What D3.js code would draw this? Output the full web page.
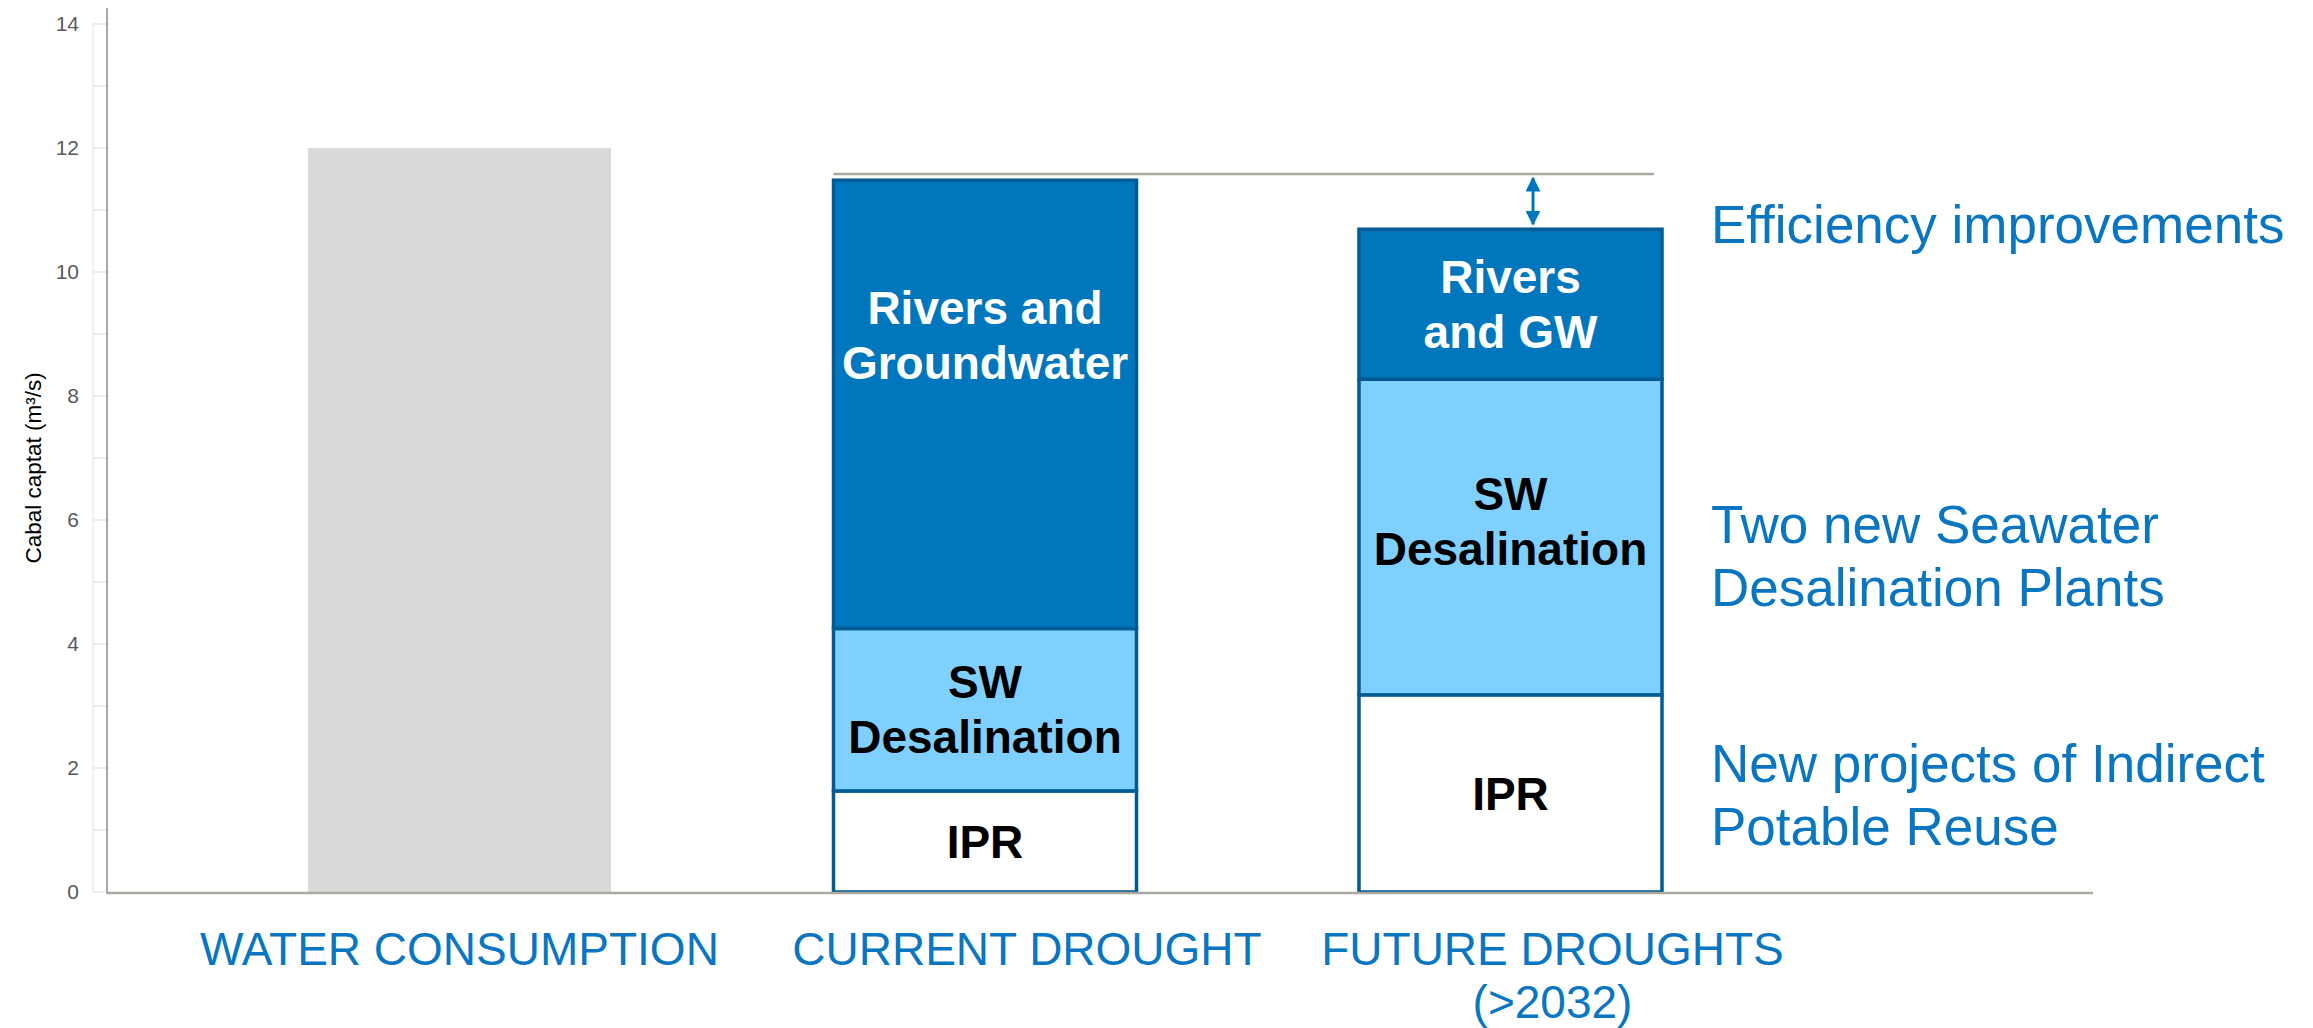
<!DOCTYPE html>
<html>
<head>
<meta charset="utf-8">
<script src="https://cdn.jsdelivr.net/npm/d3@7"></script>
<style>
  body { margin: 0; background: #fff; }
  text { font-family: "Liberation Sans", Arial, sans-serif; }
</style>
</head>
<body>
<div id="vis-holder"></div>
<script>
// Data
const categories = ["WATER CONSUMPTION", "CURRENT DROUGHT", "FUTURE DROUGHTS"];
const catLines = [["WATER CONSUMPTION"], ["CURRENT DROUGHT"], ["FUTURE DROUGHTS", "(>2032)"]];
const consumption = [12, 0, 0];
const ipr = [0, 1.63, 3.18];
const swDesal = [0, 2.62, 5.09];
const rivers = [0, 7.23, 2.42];
const refLevel = 11.58;
const yTicks = [0, 2, 4, 6, 8, 10, 12, 14];
const minorTicks = d3.range(0, 15, 1);

const segLabels = {
  ipr: [null, ["IPR"], ["IPR"]],
  sw: [null, ["SW", "Desalination"], ["SW", "Desalination"]],
  rivers: [null, ["Rivers and", "Groundwater"], ["Rivers", "and GW"]]
};
// label centre (in data units) where it is not centred in its segment
const labelCentre = { rivers: [null, 8.98, null], sw: [null, null, 5.98] };

const notes = [
  { lines: ["Efficiency improvements"], v: 10.77 },
  { lines: ["Two new Seawater", "Desalination Plants"], v: 5.42 },
  { lines: ["New projects of Indirect", "Potable Reuse"], v: 1.56 }
];

const width = 2313, height = 1028;

const svg = d3.select("#vis-holder")
  .append("svg")
  .attr("width", width)
  .attr("height", height);

const y = d3.scaleLinear().domain([0, 14]).range([892, 24]);
const x = d3.scaleBand()
  .domain(categories)
  .range([45.25, 1924.75])
  .paddingInner(0.4234)
  .paddingOuter(0.5);

// faint gridline ticks on the left
svg.append("line")
  .attr("x1", 93).attr("x2", 93)
  .attr("y1", y(14)).attr("y2", y(0))
  .attr("stroke", "#ececec").attr("stroke-width", 1.5);
svg.selectAll(".minor")
  .data(minorTicks)
  .enter().append("line")
  .attr("class", "minor")
  .attr("x1", 93).attr("x2", 109)
  .attr("y1", d => y(d)).attr("y2", d => y(d))
  .attr("stroke", "#e6e6e6").attr("stroke-width", 1.5);

// y tick labels
svg.selectAll(".ytl")
  .data(yTicks)
  .enter().append("text")
  .attr("class", "ytl")
  .attr("x", 79)
  .attr("y", d => y(d))
  .attr("dy", "0.35em")
  .attr("text-anchor", "end")
  .attr("font-size", "21px")
  .attr("fill", "#595959")
  .text(d => d);

// y title
svg.append("text")
  .attr("transform", `translate(33,${y(6.84)}) rotate(-90)`)
  .attr("text-anchor", "middle")
  .attr("dy", "0.35em")
  .attr("font-size", "22.5px")
  .attr("fill", "#000")
  .text("Cabal captat (m³/s)");

// consumption bar
svg.selectAll(".cons")
  .data(categories.map((c, i) => ({ cat: c, v: consumption[i] })))
  .enter().filter(d => d.v > 0).append("rect")
  .attr("class", "cons")
  .attr("x", d => x(d.cat))
  .attr("y", d => y(d.v))
  .attr("width", x.bandwidth())
  .attr("height", d => y(0) - y(d.v))
  .attr("fill", "#d9d9d9");

// stacked bars
const table = categories.map((c, i) => ({ cat: c, ipr: ipr[i], sw: swDesal[i], rivers: rivers[i] }));
const keys = ["ipr", "sw", "rivers"];
const fills = { ipr: "#ffffff", sw: "#80d0ff", rivers: "#0077bd" };
const textFill = { ipr: "#000", sw: "#000", rivers: "#fff" };
const stack = d3.stack().keys(keys)(table);

const layers = svg.selectAll(".layer")
  .data(stack)
  .enter().append("g")
  .attr("class", "layer");

layers.selectAll("rect")
  .data(s => s.map((d, i) => ({ key: s.key, i: i, y0: d[0], y1: d[1], cat: d.data.cat })))
  .enter().filter(d => d.y1 > d.y0).append("rect")
  .attr("x", d => x(d.cat))
  .attr("y", d => y(d.y1))
  .attr("width", x.bandwidth())
  .attr("height", d => y(d.y0) - y(d.y1))
  .attr("fill", d => fills[d.key])
  .attr("stroke", "#005b94")
  .attr("stroke-width", 3.5);

// segment labels
const lineH = 55;
stack.forEach(s => {
  s.forEach((d, i) => {
    const lab = segLabels[s.key][i];
    if (!lab) return;
    const cv = (labelCentre[s.key] && labelCentre[s.key][i] != null) ? labelCentre[s.key][i] : (d[0] + d[1]) / 2;
    const cy = y(cv);
    const t = svg.append("text")
      .attr("text-anchor", "middle")
      .attr("font-size", "46px")
      .attr("font-weight", "bold")
      .attr("fill", textFill[s.key]);
    lab.forEach((l, j) => {
      t.append("tspan")
        .attr("x", x(d.data.cat) + x.bandwidth() / 2)
        .attr("y", cy + (j - (lab.length - 1) / 2) * lineH)
        .attr("dy", "0.35em")
        .text(l);
    });
  });
});

// x axis line
svg.append("line")
  .attr("x1", 107).attr("x2", 2093)
  .attr("y1", y(0) + 1).attr("y2", y(0) + 1)
  .attr("stroke", "#aba89f").attr("stroke-width", 2.5);
// y axis line
svg.append("line")
  .attr("x1", 107).attr("x2", 107)
  .attr("y1", 8).attr("y2", y(0) + 2)
  .attr("stroke", "#aba89f").attr("stroke-width", 2);

// reference line across the drought bars
svg.append("line")
  .attr("x1", x(categories[1])).attr("x2", x(categories[2]) + x.bandwidth() - 8)
  .attr("y1", y(refLevel)).attr("y2", y(refLevel))
  .attr("stroke", "#aaa8a0").attr("stroke-width", 2.5);

// double arrow between the reference level and the future bar
const defs = svg.append("defs");
defs.append("marker")
  .attr("id", "ah")
  .attr("viewBox", "0 0 10 10")
  .attr("refX", 9).attr("refY", 5)
  .attr("markerWidth", 5).attr("markerHeight", 5)
  .attr("markerUnits", "strokeWidth")
  .attr("orient", "auto-start-reverse")
  .append("path")
  .attr("d", "M0,0 L10,5 L0,10 Z")
  .attr("fill", "#0077bd");
const ax = 1533;
const futureTop = ipr[2] + swDesal[2] + rivers[2];
svg.append("line")
  .attr("x1", ax).attr("x2", ax)
  .attr("y1", y(refLevel) + 4).attr("y2", y(futureTop) - 5)
  .attr("stroke", "#0077bd").attr("stroke-width", 3)
  .attr("marker-start", "url(#ah)")
  .attr("marker-end", "url(#ah)");

// category labels
const labelShift = [0, 42, 42];
categories.forEach((c, i) => {
  const t = svg.append("text")
    .attr("text-anchor", "middle")
    .attr("font-size", "46px")
    .attr("fill", "#0a76c2");
  catLines[i].forEach((l, j) => {
    t.append("tspan")
      .attr("x", x(c) + x.bandwidth() / 2 + labelShift[i])
      .attr("y", 949 + j * 53)
      .attr("dy", "0.35em")
      .text(l);
  });
});

// right-hand notes
notes.forEach(n => {
  const t = svg.append("text")
    .attr("font-size", "53px")
    .attr("fill", "#0a76c2");
  n.lines.forEach((l, j) => {
    t.append("tspan")
      .attr("x", 1711)
      .attr("y", y(n.v) + (j - (n.lines.length - 1) / 2) * 63)
      .attr("dy", "0.35em")
      .text(l);
  });
});
</script>
</body>
</html>
